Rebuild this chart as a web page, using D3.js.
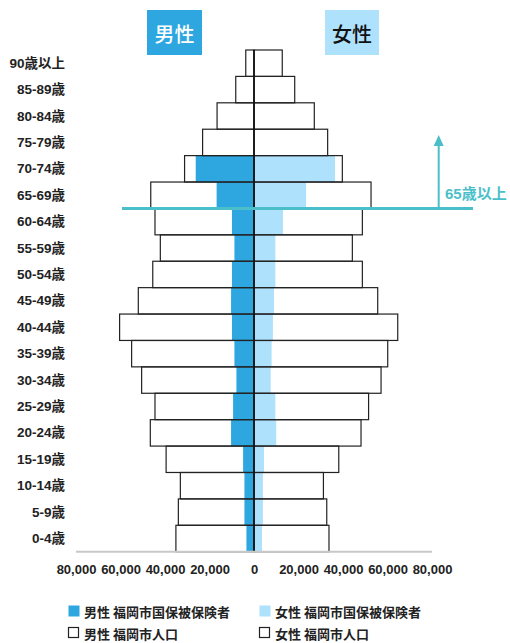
<!DOCTYPE html>
<html lang="ja">
<head>
<meta charset="utf-8">
<script src="https://cdn.jsdelivr.net/npm/d3@7"></script>
<style>
  html, body { margin: 0; padding: 0; background: #fff; }
  svg { display: block; font-family: "Noto Sans CJK JP", "Noto Sans", sans-serif; }
  .num { font-family: "Liberation Sans", "Noto Sans CJK JP", sans-serif; }
</style>
</head>
<body>
<svg id="chart" width="510" height="643"></svg>
<script>
// Age groups, youngest first
const ageGroups = ["0-4歳","5-9歳","10-14歳","15-19歳","20-24歳","25-29歳","30-34歳","35-39歳","40-44歳","45-49歳","50-54歳","55-59歳","60-64歳","65-69歳","70-74歳","75-79歳","80-84歳","85-89歳","90歳以上"];

// 福岡市人口 (persons)
const malePopulation   = [35100, 34000, 33100, 39500, 46600, 44500, 50500, 55000, 60400, 52000, 45500, 42100, 44500, 46400, 31200, 23100, 16600, 8200, 3700];
const femalePopulation = [33700, 32700, 31200, 38100, 48100, 51500, 57100, 60100, 64600, 55600, 48700, 44200, 48700, 52600, 39700, 33100, 27100, 18300, 12700];

// 福岡市国保被保険者 (persons)
const maleInsured   = [3400, 4300, 4300, 4900, 10300, 9400, 7900, 8800, 9900, 10300, 9900, 8800, 9900, 16800, 26200, 0, 0, 0, 0];
const femaleInsured = [3600, 4000, 4000, 4500, 10000, 9600, 7500, 7900, 8500, 9000, 9600, 9600, 13000, 23400, 36400, 0, 0, 0, 0];

const tickValues = [80000, 60000, 40000, 20000, 0, 20000, 40000, 60000, 80000];
const maxValue = 80000;
const thresholdGroup = "65-69歳";
const thresholdLabel = "65歳以上";

const legendItems = [
  { label: "男性 福岡市国保被保険者", fill: "#2ea7e0", stroke: "none" },
  { label: "女性 福岡市国保被保険者", fill: "#aee1fc", stroke: "none" },
  { label: "男性 福岡市人口", fill: "#fff", stroke: "#222" },
  { label: "女性 福岡市人口", fill: "#fff", stroke: "#222" }
];

const colors = { male: "#2ea7e0", female: "#aee1fc", outline: "#222", teal: "#4bbfc9", axis: "#c8c8c8", text: "#222" };

const svg = d3.select("#chart");
const center = 254;
const halfWidth = 178;

const xLeft  = d3.scaleLinear().domain([0, maxValue]).range([center, center - halfWidth]);
const xRight = d3.scaleLinear().domain([0, maxValue]).range([center, center + halfWidth]);
const y = d3.scaleBand().domain(ageGroups.slice().reverse()).range([50, 551.7]).padding(0);

const rows = ageGroups.map((g, i) => ({
  group: g,
  malePop: malePopulation[i], femalePop: femalePopulation[i],
  maleIns: maleInsured[i], femaleIns: femaleInsured[i]
}));

// white population boxes underneath
const popBoxes = svg.append("g");
popBoxes.selectAll("rect.mp").data(rows).join("rect")
  .attr("x", d => xLeft(d.malePop)).attr("y", d => y(d.group))
  .attr("width", d => center - xLeft(d.malePop)).attr("height", y.bandwidth())
  .attr("fill", "#fff");
popBoxes.selectAll("rect.fp").data(rows).join("rect")
  .attr("x", center).attr("y", d => y(d.group))
  .attr("width", d => xRight(d.femalePop) - center).attr("height", y.bandwidth())
  .attr("fill", "#fff");

// insured bars
const ins = svg.append("g");
ins.selectAll("rect.m").data(rows).join("rect")
  .attr("x", d => xLeft(d.maleIns)).attr("y", d => y(d.group))
  .attr("width", d => center - xLeft(d.maleIns)).attr("height", y.bandwidth())
  .attr("fill", colors.male);
ins.selectAll("rect.f").data(rows).join("rect")
  .attr("x", center).attr("y", d => y(d.group))
  .attr("width", d => xRight(d.femaleIns) - center).attr("height", y.bandwidth())
  .attr("fill", colors.female);

// population outlines on top
const outlines = svg.append("g").attr("fill", "none").attr("stroke", colors.outline).attr("stroke-width", 1.2);
outlines.selectAll("rect.mo").data(rows).join("rect")
  .attr("x", d => xLeft(d.malePop)).attr("y", d => y(d.group))
  .attr("width", d => center - xLeft(d.malePop)).attr("height", y.bandwidth());
outlines.selectAll("rect.fo").data(rows).join("rect")
  .attr("x", center).attr("y", d => y(d.group))
  .attr("width", d => xRight(d.femalePop) - center).attr("height", y.bandwidth());

// center line
svg.append("line")
  .attr("x1", center).attr("x2", center)
  .attr("y1", y.range()[0]).attr("y2", y.range()[1])
  .attr("stroke", "#111").attr("stroke-width", 1.5);

// baseline
svg.append("line")
  .attr("x1", xLeft(maxValue)).attr("x2", xRight(maxValue))
  .attr("y1", 551.7).attr("y2", 551.7)
  .attr("stroke", colors.axis).attr("stroke-width", 2);

// age labels
svg.append("g").selectAll("text").data(ageGroups).join("text")
  .attr("class", "num")
  .attr("x", 65).attr("y", d => y(d) + y.bandwidth() / 2)
  .attr("text-anchor", "end").attr("dominant-baseline", "central")
  .attr("font-size", 13.5).attr("font-weight", 700).attr("fill", colors.text)
  .text(d => d);

// value axis labels
const axisX = d3.scaleLinear().domain([-maxValue, maxValue]).range([center - halfWidth, center + halfWidth]);
const axisG = svg.append("g").attr("transform", "translate(0,569)")
  .call(d3.axisBottom(axisX)
    .tickValues(tickValues.map((v, i) => i < 4 ? -v : v))
    .tickSize(0).tickPadding(0)
    .tickFormat(v => d3.format(",")(Math.abs(v))));
axisG.select(".domain").remove();
axisG.selectAll("text")
  .attr("class", "num")
  .attr("font-family", null)
  .attr("font-size", 13).attr("font-weight", 700).attr("fill", colors.text)
  .attr("dy", "0.35em");

// sex headers
const headers = [
  { text: "男性", x: 147, w: 55, fill: colors.male, color: "#fff" },
  { text: "女性", x: 325, w: 54, fill: colors.female, color: "#111" }
];
const hg = svg.append("g").selectAll("g").data(headers).join("g");
hg.append("rect").attr("x", d => d.x).attr("y", 10).attr("width", d => d.w).attr("height", 45).attr("fill", d => d.fill);
hg.append("text").attr("x", d => d.x + d.w / 2).attr("y", 33)
  .attr("text-anchor", "middle").attr("dominant-baseline", "central")
  .attr("font-size", 20).attr("font-weight", 500).attr("fill", d => d.color)
  .text(d => d.text);

// 65+ threshold marker
const thresholdY = y(thresholdGroup) + y.bandwidth();
svg.append("line")
  .attr("x1", 122).attr("x2", 473).attr("y1", thresholdY).attr("y2", thresholdY)
  .attr("stroke", colors.teal).attr("stroke-width", 3);
const arrowX = 438.7;
svg.append("line")
  .attr("x1", arrowX).attr("x2", arrowX).attr("y1", thresholdY).attr("y2", 144)
  .attr("stroke", colors.teal).attr("stroke-width", 2);
svg.append("path")
  .attr("d", `M${arrowX},135 L${arrowX + 5},146 L${arrowX - 5},146 Z`)
  .attr("fill", colors.teal);
svg.append("text")
  .attr("class", "num")
  .attr("x", 445).attr("y", 193).attr("dominant-baseline", "central")
  .attr("font-size", 15).attr("font-weight", 700).attr("fill", colors.teal)
  .text(thresholdLabel);

// legend
const legend = svg.append("g").selectAll("g").data(legendItems).join("g")
  .attr("transform", (d, i) => `translate(${i % 2 === 0 ? 68 : 259},${i < 2 ? 611 : 633})`);
legend.append("rect")
  .attr("x", 0.5).attr("y", -5.5).attr("width", d => d.stroke === "none" ? 11 : 10).attr("height", d => d.stroke === "none" ? 11 : 10)
  .attr("fill", d => d.fill).attr("stroke", d => d.stroke).attr("stroke-width", 1.2);
legend.append("text")
  .attr("x", 16).attr("y", 0).attr("dominant-baseline", "central")
  .attr("font-size", 13).attr("font-weight", 700).attr("fill", colors.text)
  .text(d => d.label);
</script>
</body>
</html>
